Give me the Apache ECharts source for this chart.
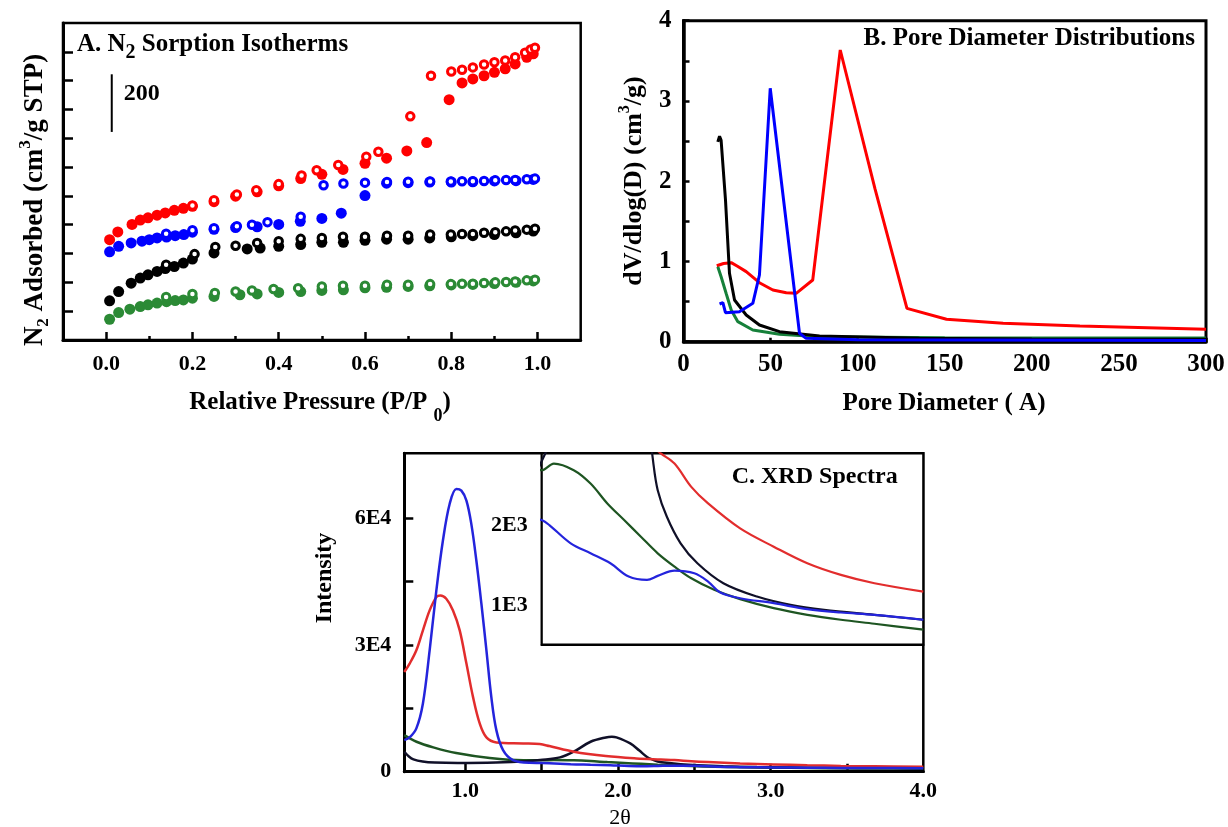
<!DOCTYPE html>
<html>
<head>
<meta charset="utf-8">
<script src="https://cdn.jsdelivr.net/npm/echarts@6.0.0/dist/echarts.min.js"></script>
<style>
  html, body { margin: 0; padding: 0; background: #fff; }
  #chart { width: 1228px; height: 827px; }
</style>
</head>
<body>
<div id="chart"></div>
<script>
// ---------- A. N2 sorption isotherms: [P/P0, adsorbed volume, cm3/g STP (curves offset)] ----------
const redAds = [[0.008,348],[0.027,375],[0.06,401],[0.079,416],[0.097,424],[0.118,433],[0.137,441],[0.158,450],[0.179,457],[0.20,464],[0.25,480],[0.30,499],[0.35,514],[0.40,535],[0.451,560],[0.50,575],[0.549,592],[0.60,613],[0.65,631],[0.697,656],[0.743,685],[0.795,834],[0.825,892],[0.85,906],[0.876,917],[0.90,929],[0.925,941],[0.948,958],[0.975,981],[0.99,993]];
const redDes = [[0.20,467],[0.25,485],[0.303,505],[0.348,520],[0.40,541],[0.453,571],[0.488,589],[0.538,607],[0.603,636],[0.631,653],[0.705,776],[0.753,917],[0.80,932],[0.825,938],[0.85,946],[0.876,956],[0.90,964],[0.925,970],[0.948,981],[0.971,997],[0.984,1008],[0.994,1014]];
const blueAds = [[0.008,306],[0.029,325],[0.058,337],[0.083,343],[0.10,348],[0.118,354],[0.14,357],[0.16,362],[0.18,366],[0.20,374],[0.25,384],[0.30,390],[0.35,393],[0.40,401],[0.45,412],[0.50,422],[0.545,440],[0.60,501],[0.65,544],[0.70,546],[0.75,548],[0.80,548],[0.85,549],[0.90,552],[0.95,553],[0.99,557]];
const blueDes = [[0.139,369],[0.20,381],[0.25,388],[0.303,395],[0.338,400],[0.374,409],[0.451,428],[0.504,537],[0.55,543],[0.60,546],[0.651,548],[0.70,549],[0.751,550],[0.799,550],[0.825,551],[0.85,551],[0.876,552],[0.902,554],[0.927,555],[0.948,555],[0.975,558],[0.994,560]];
const blackAds = [[0.008,136],[0.029,168],[0.058,197],[0.079,215],[0.097,226],[0.118,238],[0.137,248],[0.158,255],[0.179,267],[0.20,281],[0.25,302],[0.327,316],[0.357,319],[0.40,325],[0.451,331],[0.50,339],[0.55,339],[0.60,346],[0.65,350],[0.70,350],[0.75,354],[0.80,358],[0.85,362],[0.90,366],[0.95,372],[0.99,378]];
const blackDes = [[0.139,261],[0.205,298],[0.253,323],[0.30,327],[0.35,337],[0.40,343],[0.451,351],[0.50,354],[0.549,358],[0.60,358],[0.651,362],[0.70,362],[0.751,366],[0.799,366],[0.825,368],[0.85,368],[0.876,372],[0.902,374],[0.927,377],[0.948,380],[0.975,383],[0.994,386]];
const greenAds = [[0.008,72],[0.029,95],[0.055,107],[0.079,116],[0.097,122],[0.118,128],[0.14,133],[0.16,137],[0.179,139],[0.20,145],[0.25,151],[0.31,157],[0.35,160],[0.40,165],[0.451,168],[0.50,172],[0.55,174],[0.60,181],[0.65,183],[0.70,186],[0.75,188],[0.80,191],[0.85,193],[0.90,196],[0.95,200],[0.99,205]];
const greenDes = [[0.139,149],[0.20,160],[0.252,163],[0.30,168],[0.338,172],[0.388,177],[0.445,180],[0.50,186],[0.549,188],[0.60,188],[0.651,192],[0.70,192],[0.751,194],[0.799,194],[0.825,195],[0.85,195],[0.876,198],[0.902,200],[0.927,201],[0.948,203],[0.975,207],[0.994,209]];
// vertical scale bar: position on the P/P0 axis, start volume and length (cm3/g)
const scaleBarP = 0.013;
const scaleBarStart = 722;
const scaleBarLength = 200;
const isoTicks = [0, 0.2, 0.4, 0.6, 0.8, 1.0];
const isoMinorTicks = [0.1, 0.3, 0.5, 0.7, 0.9];
const isoYTicks = [100, 200, 300, 400, 500, 600, 700, 800, 900, 1000];

// ---------- B. Pore diameter distributions: [D (A), dV/dlog(D)] ----------
const poreRed = [[19.1,0.947],[23,0.975],[27.4,0.985],[31,0.94],[36.0,0.873],[43.6,0.735],[51.3,0.644],[59.0,0.611],[64.7,0.603],[74.2,0.769],[90.0,3.635],[110,1.9],[128.3,0.415],[151,0.28],[183.5,0.23],[227.6,0.195],[300,0.155]];
const poreBlue = [[20.7,0.47],[22.6,0.486],[24.1,0.361],[32.1,0.374],[39.8,0.478],[43.6,0.831],[49.8,3.158],[66.6,0.105],[70.4,0.042],[100,0.025],[300,0.015]];
const poreBlack = [[19.7,2.49],[20.7,2.56],[21.6,2.51],[24.1,1.77],[26.4,0.852],[29.3,0.52],[36.0,0.333],[43.6,0.208],[55.1,0.125],[78.1,0.071],[135.5,0.042],[200,0.035],[300,0.03]];
const poreGreen = [[19.7,0.935],[21.6,0.81],[24.5,0.60],[27.4,0.395],[31.2,0.25],[39.8,0.146],[55.1,0.092],[78.1,0.062],[150,0.05],[300,0.045]];

// ---------- C. XRD spectra: [2theta, intensity] ----------
const xrdBlue = [[0.6,7490],[0.635,8120],[0.679,10250],[0.722,16160],[0.766,28750],[0.81,42930],[0.853,54740],[0.897,63400],[0.941,66950],[0.974,66550],[1.007,64190],[1.039,58680],[1.072,50010],[1.105,39780],[1.138,28750],[1.17,17720],[1.203,9850],[1.247,5130],[1.312,2760],[1.42,2100],[1.5,2063],[1.55,2000],[1.69,1771],[1.82,1646],[1.95,1521],[2.07,1354],[2.19,1313],[2.26,1363],[2.37,1429],[2.5,1396],[2.59,1292],[2.67,1154],[2.8,1083],[3.02,1021],[3.24,946],[3.46,904],[3.68,875],[4.0,813]];
const xrdRed = [[0.6,23620],[0.635,25600],[0.679,28750],[0.722,33480],[0.766,38200],[0.81,41340],[0.836,41740],[0.875,40960],[0.919,38200],[0.963,33480],[1.007,25600],[1.05,17720],[1.094,11430],[1.138,8120],[1.203,6940],[1.378,6700],[1.487,6540],[1.55,6070],[1.71,4730],[1.92,3700],[2.12,3150],[2.28,2900],[2.37,2771],[2.48,2479],[2.59,2271],[2.8,1958],[3.02,1729],[3.24,1521],[3.46,1375],[3.68,1271],[4.0,1166]];
const xrdBlack = [[0.6,4720],[0.63,3600],[0.66,2920],[0.72,2400],[0.8,2150],[0.95,2050],[1.2,2150],[1.4,2450],[1.49,2760],[1.62,3390],[1.71,4730],[1.82,7090],[1.92,8120],[1.96,8270],[1.99,8120],[2.08,6700],[2.14,5000],[2.19,3500],[2.23,2800],[2.26,2438],[2.32,2104],[2.41,1771],[2.52,1521],[2.69,1271],[2.91,1104],[3.13,1000],[3.35,938],[3.68,875],[4.0,813]];
const xrdGreen = [[0.6,8670],[0.68,7090],[0.79,5760],[0.94,4410],[1.16,3230],[1.38,2690],[1.5,2688],[1.58,2771],[1.71,2688],[1.82,2521],[1.93,2271],[2.04,2063],[2.15,1854],[2.26,1646],[2.37,1479],[2.48,1333],[2.63,1188],[2.8,1071],[3.02,958],[3.24,875],[3.46,813],[3.68,763],[4.0,688]];
const xrdTicks = [1.0, 1.5, 2.0, 2.5, 3.0, 3.5];
const xrdLabels = [1.0, 2.0, 3.0, 4.0];
const xrdYTicks = [15000, 30000, 45000, 60000];
const xrdYLabels = [0, 30000, 60000];
const insetXTicks = [2.0, 2.5, 3.0, 3.5];
const insetYTicks = [1000, 1500, 2000, 2500];
const insetYLabels = [1000, 2000];

// ---------- styling ----------
const FONT = '"Liberation Serif", "Times New Roman", Times, serif';
const C_RED = '#ff0000', C_BLUE = '#0000ff', C_BLACK = '#000000', C_GREEN = '#2b8a35';
const X_RED = '#e22d2d', X_BLUE = '#2424dc', X_BLACK = '#101028', X_GREEN = '#1e5522';
const PORE_GREEN = '#16803a';
const A_HEIGHT = 317;

function sciLabel(v) {
  if (v === 0) return '0';
  const e = Math.floor(Math.log10(v));
  return Math.round(v / Math.pow(10, e)) + 'E' + e;
}

function rich(size, small, lh) {
  const base = { fontFamily: FONT, fontWeight: 'bold', color: '#000' };
  return {
    m: Object.assign({}, base, { fontSize: size, lineHeight: lh }),
    sub: Object.assign({}, base, { fontSize: small, lineHeight: small, verticalAlign: 'bottom' }),
    sup: Object.assign({}, base, { fontSize: small, lineHeight: small, verticalAlign: 'top' })
  };
}

function tickLabel(size, margin, extra) {
  return Object.assign({ fontFamily: FONT, fontWeight: 'bold', fontSize: size, color: '#000', margin: margin }, extra || {});
}

function axisLine(width) {
  return { onZero: false, lineStyle: { color: '#000', width: width } };
}

function filled(data, color) {
  return { type: 'scatter', xAxisIndex: 0, yAxisIndex: 0, data, symbol: 'circle', symbolSize: 11,
    itemStyle: { color, opacity: 1 }, silent: true, z: 2 };
}
function open(data, color) {
  return { type: 'scatter', xAxisIndex: 0, yAxisIndex: 0, data, symbol: 'circle', symbolSize: 7.5,
    itemStyle: { color: '#fff', borderColor: color, borderWidth: 3, opacity: 1 }, silent: true, z: 3 };
}
function poreLine(data, color) {
  return { type: 'line', xAxisIndex: 2, yAxisIndex: 1, data, symbol: 'none', showSymbol: false,
    lineStyle: { color, width: 3 }, itemStyle: { color }, silent: true };
}
function xrdLine(data, color, inset) {
  return { type: 'line', xAxisIndex: inset ? 4 : 3, yAxisIndex: inset ? 3 : 2, data, symbol: 'none', showSymbol: false,
    smooth: 0.35, clip: true,
    lineStyle: { color, width: inset ? 2.2 : 2.5 }, itemStyle: { color }, silent: true, z: inset ? 4 : 2 };
}

const chart = echarts.init(document.getElementById('chart'), null, { renderer: 'canvas' });

const option = {
  animation: false,
  backgroundColor: '#fff',
  grid: [
    { left: 63, top: 23, width: 517.7, height: A_HEIGHT, show: true, borderColor: '#000', borderWidth: 2.5, backgroundColor: 'transparent' },
    { left: 683.5, top: 20.7, width: 522.5, height: 321, show: true, borderColor: '#000', borderWidth: 3, backgroundColor: 'transparent' },
    { left: 404.3, top: 453.3, width: 519, height: 318.4, show: true, borderColor: '#000', borderWidth: 2.5, backgroundColor: 'transparent' },
    { left: 541.7, top: 453.3, width: 381.6, height: 191.4, show: true, borderColor: '#000', borderWidth: 2.2, backgroundColor: '#fff', z: 3 }
  ],
  xAxis: [
    { type: 'value', gridIndex: 0, min: -0.1, max: 1.1, position: 'bottom',
      axisLine: axisLine(3),
      axisTick: { inside: true, length: 8, customValues: isoTicks, lineStyle: { color: '#000', width: 2.5 } },
      axisLabel: tickLabel(22, 13, { customValues: isoTicks, formatter: v => v.toFixed(1) }),
      splitLine: { show: false } },
    // short intermediate ticks, shifted from the top edge down onto the bottom edge
    { type: 'value', gridIndex: 0, min: -0.1, max: 1.1, position: 'top', offset: -A_HEIGHT,
      axisLine: { show: false, onZero: false },
      axisTick: { inside: false, length: 4, customValues: isoMinorTicks, lineStyle: { color: '#000', width: 2.5 } },
      axisLabel: { show: false }, splitLine: { show: false } },
    { type: 'value', gridIndex: 1, min: 0, max: 300, interval: 50,
      axisLine: axisLine(3.5),
      axisTick: { inside: true, length: 4, lineStyle: { color: '#000', width: 2.5 } },
      axisLabel: tickLabel(25, 10),
      splitLine: { show: false } },
    { type: 'value', gridIndex: 2, min: 0.6, max: 4.0,
      axisLine: axisLine(3),
      axisTick: { inside: true, length: 8, customValues: xrdTicks, lineStyle: { color: '#000', width: 2.5 } },
      axisLabel: tickLabel(22, 9, { customValues: xrdLabels, formatter: v => v.toFixed(1) }),
      splitLine: { show: false } },
    { type: 'value', gridIndex: 3, min: 1.5, max: 4.0,
      axisLine: axisLine(2.2),
      axisTick: { inside: true, length: 6, customValues: insetXTicks, lineStyle: { color: '#000', width: 2 } },
      axisLabel: { show: false }, splitLine: { show: false } }
  ],
  yAxis: [
    { type: 'value', gridIndex: 0, min: 0, max: 1100,
      axisLine: axisLine(3),
      axisTick: { inside: true, length: 10, customValues: isoYTicks, lineStyle: { color: '#000', width: 2.5 } },
      axisLabel: { show: false }, splitLine: { show: false } },
    { type: 'value', gridIndex: 1, min: 0, max: 4, interval: 0.5,
      axisLine: axisLine(3.5),
      axisTick: { inside: true, length: 6, lineStyle: { color: '#000', width: 2.5 } },
      axisLabel: tickLabel(25, 12, { formatter: v => (Number.isInteger(v) ? String(v) : '') }),
      splitLine: { show: false } },
    { type: 'value', gridIndex: 2, min: 0, max: 75400,
      axisLine: axisLine(3),
      axisTick: { inside: true, length: 9, customValues: xrdYTicks, lineStyle: { color: '#000', width: 2.5 } },
      axisLabel: tickLabel(22, 13, { customValues: xrdYLabels, formatter: sciLabel }),
      splitLine: { show: false } },
    { type: 'value', gridIndex: 3, min: 500, max: 2900,
      axisLine: axisLine(2.2),
      axisTick: { inside: true, length: 5, customValues: insetYTicks, lineStyle: { color: '#000', width: 2 } },
      axisLabel: tickLabel(22, 14, { customValues: insetYLabels, formatter: sciLabel }),
      splitLine: { show: false } }
  ],
  series: [
    filled(redAds, C_RED), open(redDes, C_RED),
    filled(blueAds, C_BLUE), open(blueDes, C_BLUE),
    filled(blackAds, C_BLACK), open(blackDes, C_BLACK),
    filled(greenAds, C_GREEN), open(greenDes, C_GREEN),
    { type: 'line', xAxisIndex: 0, yAxisIndex: 0, symbol: 'none', silent: true,
      data: [[scaleBarP, scaleBarStart], [scaleBarP, scaleBarStart + scaleBarLength]],
      lineStyle: { color: '#000', width: 2 } },

    poreLine(poreRed, C_RED), poreLine(poreGreen, PORE_GREEN), poreLine(poreBlack, C_BLACK), poreLine(poreBlue, C_BLUE),

    xrdLine(xrdGreen, X_GREEN), xrdLine(xrdBlack, X_BLACK), xrdLine(xrdRed, X_RED), xrdLine(xrdBlue, X_BLUE),
    xrdLine(xrdGreen, X_GREEN, true), xrdLine(xrdBlack, X_BLACK, true), xrdLine(xrdRed, X_RED, true), xrdLine(xrdBlue, X_BLUE, true)
  ],
  graphic: [
    { type: 'text', x: 77, y: 45, z: 10, style: { text: '{m|A. N}{sub|2}{m| Sorption Isotherms}', rich: rich(25, 20, 35), align: 'left', verticalAlign: 'middle' } },
    { type: 'text', x: 141.7, y: 93.3, z: 10, style: { text: String(scaleBarLength), font: 'bold 24px ' + FONT, fill: '#000', align: 'center', verticalAlign: 'middle' } },
    { type: 'text', x: 35, y: 200, rotation: Math.PI / 2, z: 10, style: { text: '{m|N}{sub|2}{m| Adsorbed (cm}{sup|3}{m|/g STP)}', rich: rich(27, 17, 35), align: 'center', verticalAlign: 'middle' } },
    { type: 'text', x: 320, y: 403, z: 10, style: { text: '{m|Relative Pressure (P/P }{sub|0}{m|)}', rich: rich(25, 18, 45), align: 'center', verticalAlign: 'middle' } },

    { type: 'text', x: 1195, y: 39, z: 10, style: { text: 'B. Pore Diameter Distributions', font: 'bold 25px ' + FONT, fill: '#000', align: 'right', verticalAlign: 'middle' } },
    { type: 'text', x: 634, y: 181, rotation: Math.PI / 2, z: 10, style: { text: '{m|dV/dlog(D) (cm}{sup|3}{m|/g)}', rich: rich(26, 16, 34), align: 'center', verticalAlign: 'middle' } },
    { type: 'text', x: 944, y: 404, z: 10, style: { text: 'Pore Diameter ( A)', font: 'bold 25px ' + FONT, fill: '#000', align: 'center', verticalAlign: 'middle' } },

    { type: 'text', x: 731.7, y: 477, z: 10, style: { text: 'C. XRD Spectra', font: 'bold 24px ' + FONT, fill: '#000', align: 'left', verticalAlign: 'middle' } },
    { type: 'text', x: 325, y: 578, rotation: Math.PI / 2, z: 10, style: { text: 'Intensity', font: 'bold 24px ' + FONT, fill: '#000', align: 'center', verticalAlign: 'middle' } },
    { type: 'text', x: 620, y: 818, z: 10, style: { text: '2\u03b8', font: '22px ' + FONT, fill: '#000', align: 'center', verticalAlign: 'middle' } }
  ]
};

chart.setOption(option);
</script>
</body>
</html>
